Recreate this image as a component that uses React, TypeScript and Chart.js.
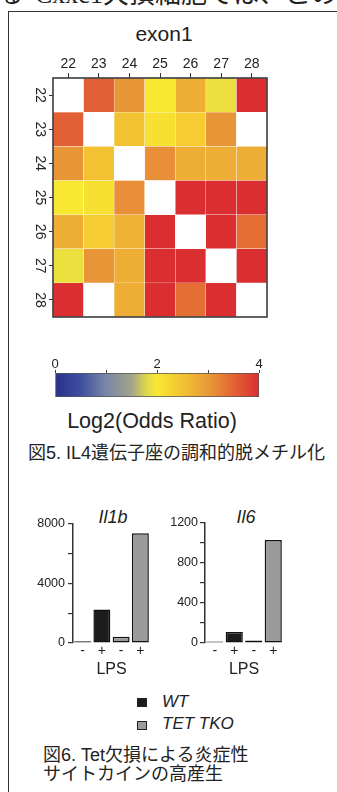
import React, { useEffect, useRef } from "react";
import { Chart, registerables } from "chart.js";

Chart.register(...registerables);

const SANS = '"Liberation Sans", Arial, Helvetica, sans-serif';
const SANS_CJK = '"Liberation Sans", Arial, "Noto Sans CJK JP", sans-serif';
const SERIF_CJK = '"Liberation Serif", "DejaVu Serif", "Noto Sans CJK JP", serif';
Chart.defaults.font.family = SANS;

// ---------- Figure 5: heatmap ----------
const heatTitle = "exon1";
const heatLabels = ["22", "23", "24", "25", "26", "27", "28"];
const heatRow22 = [null, 3.55, 3.05, 2.0, 2.75, 1.9, 4.0];
const heatRow23 = [3.55, null, 2.5, 2.1, 2.35, 3.05, null];
const heatRow24 = [3.05, 2.5, null, 3.1, 2.75, 2.75, 2.75];
const heatRow25 = [2.0, 2.1, 3.1, null, 4.0, 4.0, 4.0];
const heatRow26 = [2.75, 2.35, 2.7, 4.0, null, 4.0, 3.4];
const heatRow27 = [1.9, 3.05, 2.75, 4.0, 4.0, null, 4.0];
const heatRow28 = [4.0, null, 2.75, 4.0, 3.4, 4.0, null];
const heatRows = [heatRow22, heatRow23, heatRow24, heatRow25, heatRow26, heatRow27, heatRow28];

const colorStopValues = [0, 0.5, 1, 1.5, 1.8, 2, 2.5, 3, 3.5, 4];
const colorStopColors = ["#28308a", "#3d4f9f", "#7a86a8", "#a3a38a", "#e0d84a", "#f8e832", "#f3c232", "#e99a38", "#e26434", "#da2e30"];
const colorbarMin = 0;
const colorbarMax = 4;
const colorbarLabelStep = 2;
const colorbarTitle = "Log2(Odds Ratio)";
const fig5Caption = "図5. IL4遺伝子座の調和的脱メチル化";

// ---------- Figure 6: bar charts ----------
const lpsLabels = ["-", "+", "-", "+"];
const lpsTitle = "LPS";
const seriesNames = ["WT", "TET TKO"];
const seriesColors = ["#1c1c1c", "#9b9b9b"];
const il1bTitle = "Il1b";
const il1bWT = [120, 2250, null, null];
const il1bTKO = [null, null, 420, 7350];
const il1bMax = 8000;
const il1bStep = 2000;
const il1bLabelStep = 4000;
const il6Title = "Il6";
const il6WT = [15, 110, null, null];
const il6TKO = [null, null, 25, 1030];
const il6Max = 1200;
const il6Step = 200;
const il6LabelStep = 400;
const fig6CaptionLines = ["図6. Tet欠損による炎症性", "サイトカインの高産生"];

function hexToRgb(h: string) {
  const n = parseInt(h.slice(1), 16);
  return [(n >> 16) & 255, (n >> 8) & 255, n & 255];
}
function colorFor(v: number) {
  const vs = colorStopValues;
  const cs = colorStopColors;
  if (v <= vs[0]) return cs[0];
  for (let i = 1; i < vs.length; i++) {
    if (v <= vs[i]) {
      const t = (v - vs[i - 1]) / (vs[i] - vs[i - 1]);
      const a = hexToRgb(cs[i - 1]);
      const b = hexToRgb(cs[i]);
      return `rgb(${a.map((x, k) => Math.round(x + (b[k] - x) * t)).join(",")})`;
    }
  }
  return cs[cs.length - 1];
}

const heatDecor = {
  id: "heatDecor",
  afterDraw(chart: any) {
    const { ctx, chartArea: a, scales } = chart;
    ctx.save();
    ctx.strokeStyle = "#3c3c3c";
    ctx.lineWidth = 1.6;
    ctx.strokeRect(a.left, a.top, a.right - a.left, a.bottom - a.top);
    ctx.fillStyle = "#222";
    ctx.font = `14px ${SANS}`;
    ctx.textAlign = "center";
    ctx.textBaseline = "middle";
    heatLabels.forEach((lab, i) => {
      const y = scales.y.getPixelForValue(i + 0.5);
      ctx.save();
      ctx.translate(a.left - 13, y);
      ctx.rotate(Math.PI / 2);
      ctx.fillText(lab, 0, 0);
      ctx.restore();
    });
    ctx.restore();
  },
};

function heatmapConfig(): any {
  return {
    type: "bar",
    data: {
      labels: heatLabels,
      datasets: heatRows.map((row, r) => ({
        label: heatLabels[r],
        data: row.map(() => [r, r + 1]),
        backgroundColor: row.map((v) => (v == null ? "#ffffff" : colorFor(v))),
        borderColor: "rgba(255,255,255,0.4)",
        borderWidth: 0.5,
        borderSkipped: false,
        grouped: false,
        barPercentage: 1,
        categoryPercentage: 1,
      })),
    },
    options: {
      responsive: false,
      animation: false,
      layout: { padding: { left: 0, right: 33, top: 0, bottom: 13 } },
      plugins: { legend: { display: false }, tooltip: { enabled: false } },
      scales: {
        x: {
          position: "top",
          grid: { display: true, drawOnChartArea: false, offset: false, drawTicks: true, tickLength: 5, color: "#333", lineWidth: 1 },
          border: { display: false },
          ticks: { font: { size: 14 }, color: "#222", padding: 0, maxRotation: 0, autoSkip: false },
          afterFit: (s: any) => {
            s.height = 38;
          },
        },
        y: {
          type: "linear",
          min: 0,
          max: heatLabels.length,
          reverse: true,
          afterBuildTicks: (s: any) => {
            s.ticks = heatLabels.map((_, i) => ({ value: i + 0.5 }));
          },
          ticks: { display: false },
          grid: { drawOnChartArea: false, drawTicks: true, tickLength: 4, color: "#333", lineWidth: 1 },
          border: { display: false },
          afterFit: (s: any) => {
            s.width = 53;
          },
        },
      },
    },
    plugins: [heatDecor],
  };
}

function colorbarConfig(): any {
  return {
    type: "bar",
    data: {
      labels: [colorbarTitle],
      datasets: [
        {
          data: [[colorbarMin, colorbarMax]],
          backgroundColor: (c: any) => {
            const chart = c.chart;
            const xs = chart.scales && chart.scales.x;
            if (!chart.chartArea || !xs) return colorStopColors[0];
            const x0 = xs.getPixelForValue(colorbarMin);
            const x1 = xs.getPixelForValue(colorbarMax);
            const g = chart.ctx.createLinearGradient(x0, 0, x1, 0);
            colorStopValues.forEach((v, i) => g.addColorStop((v - colorbarMin) / (colorbarMax - colorbarMin), colorStopColors[i]));
            return g;
          },
          borderColor: "#555",
          borderWidth: 1,
          borderSkipped: false,
          barPercentage: 1,
          categoryPercentage: 1,
        },
      ],
    },
    options: {
      indexAxis: "y",
      responsive: false,
      animation: false,
      layout: { padding: { left: 15, right: 21, top: 0, bottom: 8 } },
      plugins: { legend: { display: false }, tooltip: { enabled: false } },
      scales: {
        x: {
          type: "linear",
          position: "top",
          min: colorbarMin,
          max: colorbarMax,
          ticks: {
            stepSize: 1,
            callback: (v: any) => (v % colorbarLabelStep === 0 ? String(v) : ""),
            font: { size: 13 },
            color: "#222",
            padding: -2,
            maxRotation: 0,
          },
          grid: { drawOnChartArea: false, tickLength: 3, color: "#444" },
          border: { display: false },
          afterFit: (s: any) => {
            s.height = 28;
          },
        },
        y: { display: false },
      },
    },
  };
}

function barConfig(wt: any[], tko: any[], max: number, step: number, labelStep: number, leftW: number, rightPad: number, tickPad: number): any {
  const common = { borderColor: "#111", borderWidth: 1.5, borderSkipped: false, grouped: false, barPercentage: 0.88, categoryPercentage: 1 };
  return {
    type: "bar",
    data: {
      labels: lpsLabels,
      datasets: [
        { label: seriesNames[0], data: wt, backgroundColor: seriesColors[0], ...common },
        { label: seriesNames[1], data: tko, backgroundColor: seriesColors[1], ...common },
      ],
    },
    options: {
      responsive: false,
      animation: false,
      layout: { padding: { left: 0, right: rightPad, top: 10, bottom: 0 } },
      plugins: { legend: { display: false }, tooltip: { enabled: false } },
      scales: {
        x: {
          grid: { display: false, drawTicks: false },
          border: { display: false },
          ticks: { font: { size: 14 }, color: "#222", padding: 0, maxRotation: 0 },
          title: { display: true, text: lpsTitle, font: { size: 16 }, color: "#222", padding: { top: 0, bottom: 0 } },
          afterFit: (s: any) => {
            s.height = 36;
          },
        },
        y: {
          min: 0,
          max,
          ticks: {
            stepSize: step,
            autoSkip: false,
            callback: (v: any) => (v % labelStep === 0 ? String(v) : ""),
            font: { size: 12.5 },
            color: "#222",
            padding: tickPad,
          },
          grid: { drawOnChartArea: false, drawTicks: true, tickLength: 5, color: "#333", lineWidth: 1.2 },
          border: { display: true, color: "#333", width: 1.5 },
          afterFit: (s: any) => {
            s.width = leftW;
          },
        },
      },
    },
  };
}

function ChartCanvas(props: { make: () => any; left: number; top: number; width: number; height: number }) {
  const ref = useRef<HTMLCanvasElement>(null);
  useEffect(() => {
    const chart = new Chart(ref.current as HTMLCanvasElement, props.make());
    return () => chart.destroy();
  }, []);
  return (
    <canvas
      ref={ref}
      width={props.width}
      height={props.height}
      style={{ position: "absolute", left: props.left, top: props.top, width: props.width, height: props.height }}
    />
  );
}

function Txt(props: { text: string; size: number; baseline: number; left?: number; cx?: number; italic?: boolean; family?: string }) {
  const lh = props.size * 1.15;
  const top = props.baseline - 0.921 * props.size;
  const style: any = {
    position: "absolute",
    top,
    fontSize: props.size,
    lineHeight: `${lh}px`,
    fontFamily: props.family || SANS_CJK,
    fontStyle: props.italic ? "italic" : "normal",
    whiteSpace: "nowrap",
    color: "#222",
  };
  if (props.cx !== undefined) {
    style.left = props.cx;
    style.transform = "translateX(-50%)";
  } else {
    style.left = props.left;
  }
  return <div style={style}>{props.text}</div>;
}

export default function App() {
  return (
    <div style={{ position: "absolute", left: 0, top: 0, width: 337, height: 792, overflow: "hidden", background: "#fff" }}>
      {/* clipped previous text line */}
      <div
        style={{
          position: "absolute",
          left: -2,
          top: -20,
          fontSize: 26,
          lineHeight: "29.9px",
          fontFamily: SERIF_CJK,
          whiteSpace: "nowrap",
          color: "#222",
        }}
      >
        <span>る</span>
        <span style={{ marginLeft: 11 }}>Cxxc1欠損細胞では、この</span>
      </div>
      {/* frame */}
      <div style={{ position: "absolute", left: 8, top: 11, width: 340, height: 800, borderTop: "1.5px solid #333", borderLeft: "1.5px solid #333" }} />

      <Txt text={heatTitle} size={21} baseline={41} cx={164} family={SANS} />
      <ChartCanvas make={heatmapConfig} left={0} top={40} width={300} height={290} />
      <ChartCanvas make={colorbarConfig} left={40} top={345} width={240} height={60} />
      <Txt text={colorbarTitle} size={21.5} baseline={429} cx={152} family={SANS} />
      <Txt text={fig5Caption} size={18} baseline={460} left={28} />

      <Txt text={il1bTitle} size={18} baseline={524} cx={113} italic family={SANS} />
      <Txt text={il6Title} size={18} baseline={524} cx={246} italic family={SANS} />
      <ChartCanvas make={() => barConfig(il1bWT, il1bTKO, il1bMax, il1bStep, il1bLabelStep, 53, 5, 3)} left={20} top={513} width={135} height={166} />
      <ChartCanvas make={() => barConfig(il6WT, il6TKO, il6Max, il6Step, il6LabelStep, 50, 7, 2)} left={155} top={513} width={135} height={166} />

      {seriesNames.map((name, i) => (
        <React.Fragment key={name}>
          <div
            style={{
              position: "absolute",
              left: 137,
              top: 698 + i * 22.5,
              width: 10,
              height: 9,
              background: seriesColors[i],
              border: "1px solid #222",
              boxSizing: "border-box",
            }}
          />
          <Txt text={name} size={17} baseline={708 + i * 22} left={162} italic family={SANS} />
        </React.Fragment>
      ))}

      {fig6CaptionLines.map((line, i) => (
        <Txt key={line} text={line} size={18} baseline={762 + i * 19} left={43} />
      ))}
    </div>
  );
}
